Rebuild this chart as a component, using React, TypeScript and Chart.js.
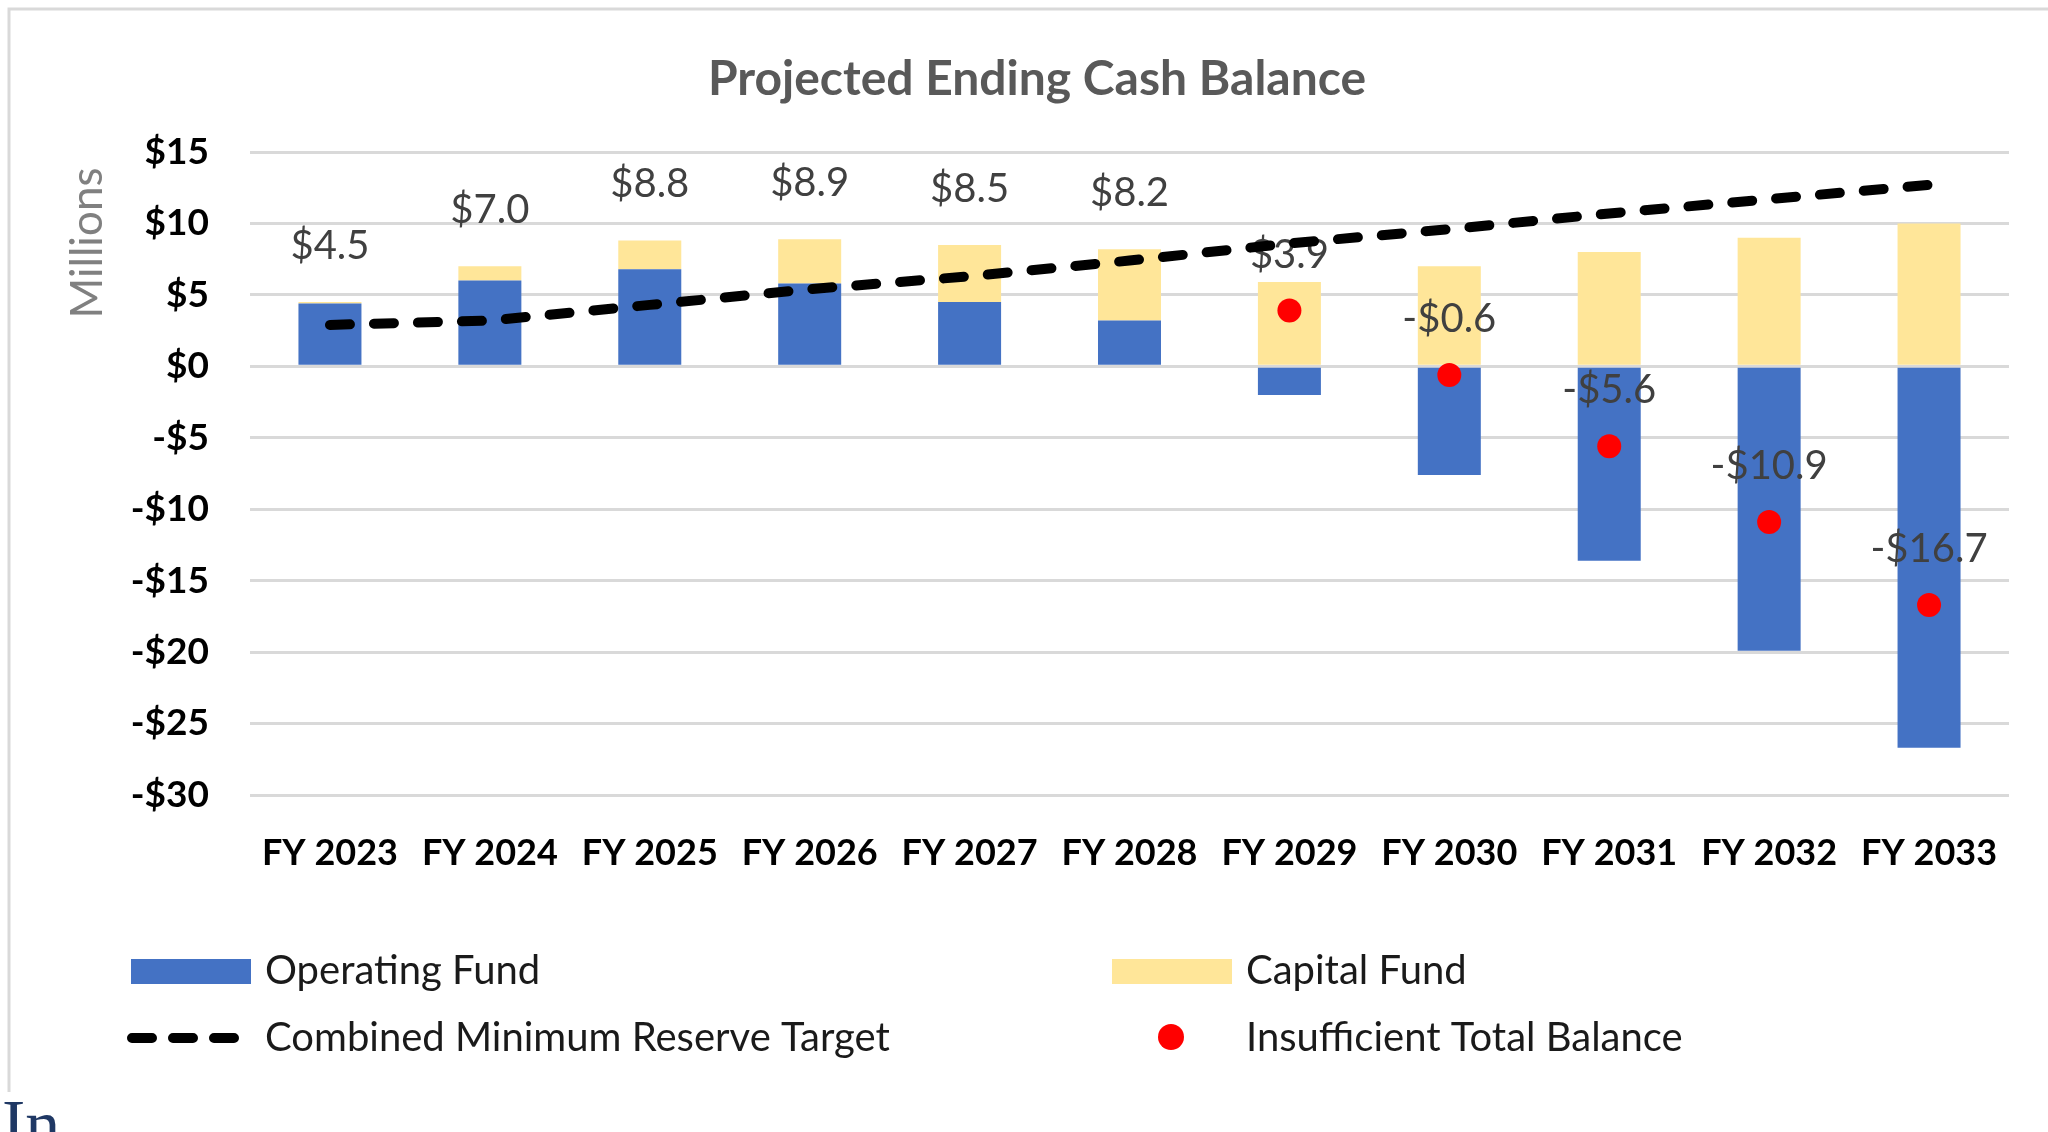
import React, { useEffect, useRef } from 'react';
import { Chart, registerables } from 'chart.js';

Chart.register(...registerables);

// ---------------- data ----------------
const categories = ['FY 2023', 'FY 2024', 'FY 2025', 'FY 2026', 'FY 2027', 'FY 2028', 'FY 2029', 'FY 2030', 'FY 2031', 'FY 2032', 'FY 2033'];
const operatingFund = [4.4, 6.0, 6.8, 5.8, 4.5, 3.2, -2.0, -7.6, -13.6, -19.9, -26.7];
const capitalFund = [0.1, 1.0, 2.0, 3.1, 4.0, 5.0, 5.9, 7.0, 8.0, 9.0, 10.0];
const totalBalance = [4.5, 7.0, 8.8, 8.9, 8.5, 8.2, 3.9, -0.6, -5.6, -10.9, -16.7];
const reserveTarget = [2.9, 3.2, 4.3, 5.4, 6.3, 7.4, 8.6, 9.6, 10.7, 11.7, 12.7];
const insufficientBalance = [null, null, null, null, null, null, 3.9, -0.6, -5.6, -10.9, -16.7];
const yMin = -30;
const yMax = 15;
const yStep = 5;

const chartTitle = 'Projected Ending Cash Balance';
const yAxisTitle = 'Millions';
const legendLabels = ['Operating Fund', 'Capital Fund', 'Combined Minimum Reserve Target', 'Insufficient Total Balance'];

// ---------------- styles ----------------
const BLUE = '#4472C4';
const GOLD = '#FFE699';
const RED = '#FF0000';
const FONT = 'Lato, "Open Sans", sans-serif';

const money = (v: number, digits: number) =>
  v < 0 ? `-$${Math.abs(v).toFixed(digits)}` : `$${v.toFixed(digits)}`;

const decorPlugin = {
  id: 'decor',
  beforeDraw(chart: any) {
    const ctx = chart.ctx;
    ctx.save();
    // frame
    ctx.strokeStyle = '#d9d9d9';
    ctx.lineWidth = 3;
    ctx.beginPath();
    ctx.moveTo(9, 1092);
    ctx.lineTo(9, 9);
    ctx.lineTo(2060, 9);
    ctx.stroke();
    // title
    ctx.fillStyle = '#595959';
    ctx.font = `bold 48px ${FONT}`;
    ctx.textAlign = 'center';
    ctx.textBaseline = 'middle';
    ctx.fillText(chartTitle, 1037, 80);
    // y axis title
    ctx.translate(88, 243);
    ctx.rotate(-Math.PI / 2);
    ctx.fillStyle = '#808080';
    ctx.font = `44px ${FONT}`;
    ctx.fillText(yAxisTitle, 0, 0);
    ctx.restore();
  },
  beforeDatasetDraw(chart: any, args: any) {
    if (args.index !== 2) return;
    const ctx = chart.ctx;
    const xs = chart.scales.x;
    const ys = chart.scales.y;
    ctx.save();
    ctx.fillStyle = '#404040';
    ctx.font = `40px ${FONT}`;
    ctx.textAlign = 'center';
    ctx.textBaseline = 'middle';
    totalBalance.forEach((v, i) => {
      ctx.fillText(money(v, 1), xs.getPixelForValue(i), ys.getPixelForValue(v) - 56);
    });
    ctx.restore();
  },
  afterDraw(chart: any) {
    const ctx = chart.ctx;
    ctx.save();
    // swatches
    ctx.fillStyle = BLUE;
    ctx.fillRect(131, 959, 120, 25);
    ctx.fillStyle = GOLD;
    ctx.fillRect(1112, 959, 120, 25);
    // dashed line
    ctx.strokeStyle = '#000';
    ctx.lineWidth = 10;
    ctx.lineCap = 'round';
    ctx.setLineDash([20, 21]);
    ctx.beginPath();
    ctx.moveTo(132, 1038);
    ctx.lineTo(234, 1038);
    ctx.stroke();
    ctx.setLineDash([]);
    // red dot
    ctx.fillStyle = RED;
    ctx.beginPath();
    ctx.arc(1171, 1037, 13, 0, Math.PI * 2);
    ctx.fill();
    // text
    ctx.fillStyle = '#1a1a1a';
    ctx.font = `40px ${FONT}`;
    ctx.textAlign = 'left';
    ctx.textBaseline = 'middle';
    ctx.fillText(legendLabels[0], 265, 971);
    ctx.fillText(legendLabels[1], 1246, 971);
    ctx.fillText(legendLabels[2], 265, 1038);
    ctx.fillText(legendLabels[3], 1246, 1038);
    ctx.restore();
  },
};

export default function App() {
  const ref = useRef<HTMLCanvasElement>(null);

  useEffect(() => {
    const canvas = ref.current;
    if (!canvas) return;
    const chart = new Chart(canvas, {
      type: 'bar',
      data: {
        labels: categories,
        datasets: [
          {
            type: 'bar',
            label: legendLabels[0],
            data: operatingFund,
            backgroundColor: BLUE,
            stack: 'funds',
            order: 3,
            barPercentage: 0.394,
            categoryPercentage: 1,
          },
          {
            type: 'bar',
            label: legendLabels[1],
            data: capitalFund,
            backgroundColor: GOLD,
            stack: 'funds',
            order: 3,
            barPercentage: 0.394,
            categoryPercentage: 1,
          },
          {
            type: 'line',
            label: legendLabels[2],
            data: reserveTarget,
            borderColor: '#000',
            borderWidth: 10,
            borderDash: [20, 24],
            borderCapStyle: 'round',
            pointRadius: 0,
            fill: false,
            tension: 0,
            stack: 'target',
            order: 2,
          },
          {
            type: 'line',
            label: legendLabels[3],
            data: insufficientBalance,
            showLine: false,
            pointRadius: 12,
            pointBackgroundColor: RED,
            pointBorderWidth: 0,
            pointBorderColor: RED,
            stack: 'dots',
            order: 1,
          },
        ],
      } as any,
      options: {
        responsive: false,
        animation: false,
        devicePixelRatio: 1,
        layout: { padding: { left: 0, right: 39, top: 152, bottom: 0 } },
        plugins: {
          legend: { display: false },
          title: { display: false },
          tooltip: { enabled: false },
        },
        scales: {
          x: {
            stacked: true,
            grid: { display: false },
            border: { display: false },
            ticks: {
              color: '#000',
              font: { family: FONT, size: 36, weight: 'bold' },
              padding: 29,
              maxRotation: 0,
              autoSkip: false,
            },
            afterFit: (s: any) => {
              s.height = 337;
            },
          },
          y: {
            stacked: true,
            min: yMin,
            max: yMax,
            grid: { color: '#d9d9d9', lineWidth: 3, drawTicks: false },
            border: { display: false },
            ticks: {
              stepSize: yStep,
              color: '#000',
              font: { family: FONT, size: 37, weight: 'bold' },
              padding: 41,
              callback: (v: any) => money(Number(v), 0),
            },
            afterFit: (s: any) => {
              s.width = 250;
            },
          },
        },
      } as any,
      plugins: [decorPlugin],
    });
    let alive = true;
    const fonts: any = (document as any).fonts;
    if (fonts && fonts.load) {
      Promise.all([fonts.load(`bold 36px Lato`), fonts.load(`36px Lato`)])
        .then(() => {
          if (alive) chart.update();
        })
        .catch(() => {});
    }
    return () => {
      alive = false;
      chart.destroy();
    };
  }, []);

  return (
    <div
      style={{
        position: 'fixed',
        left: 0,
        top: 0,
        width: 2048,
        height: 1132,
        overflow: 'hidden',
        background: '#fff',
      }}
    >
      <canvas ref={ref} width={2048} height={1132} style={{ display: 'block', width: 2048, height: 1132 }} />
      <div
        style={{
          position: 'absolute',
          left: 2,
          top: 1090,
          fontFamily: '"Liberation Serif", serif',
          fontSize: 70,
          lineHeight: 1,
          color: '#1F3864',
        }}
      >
        In
      </div>
    </div>
  );
}
